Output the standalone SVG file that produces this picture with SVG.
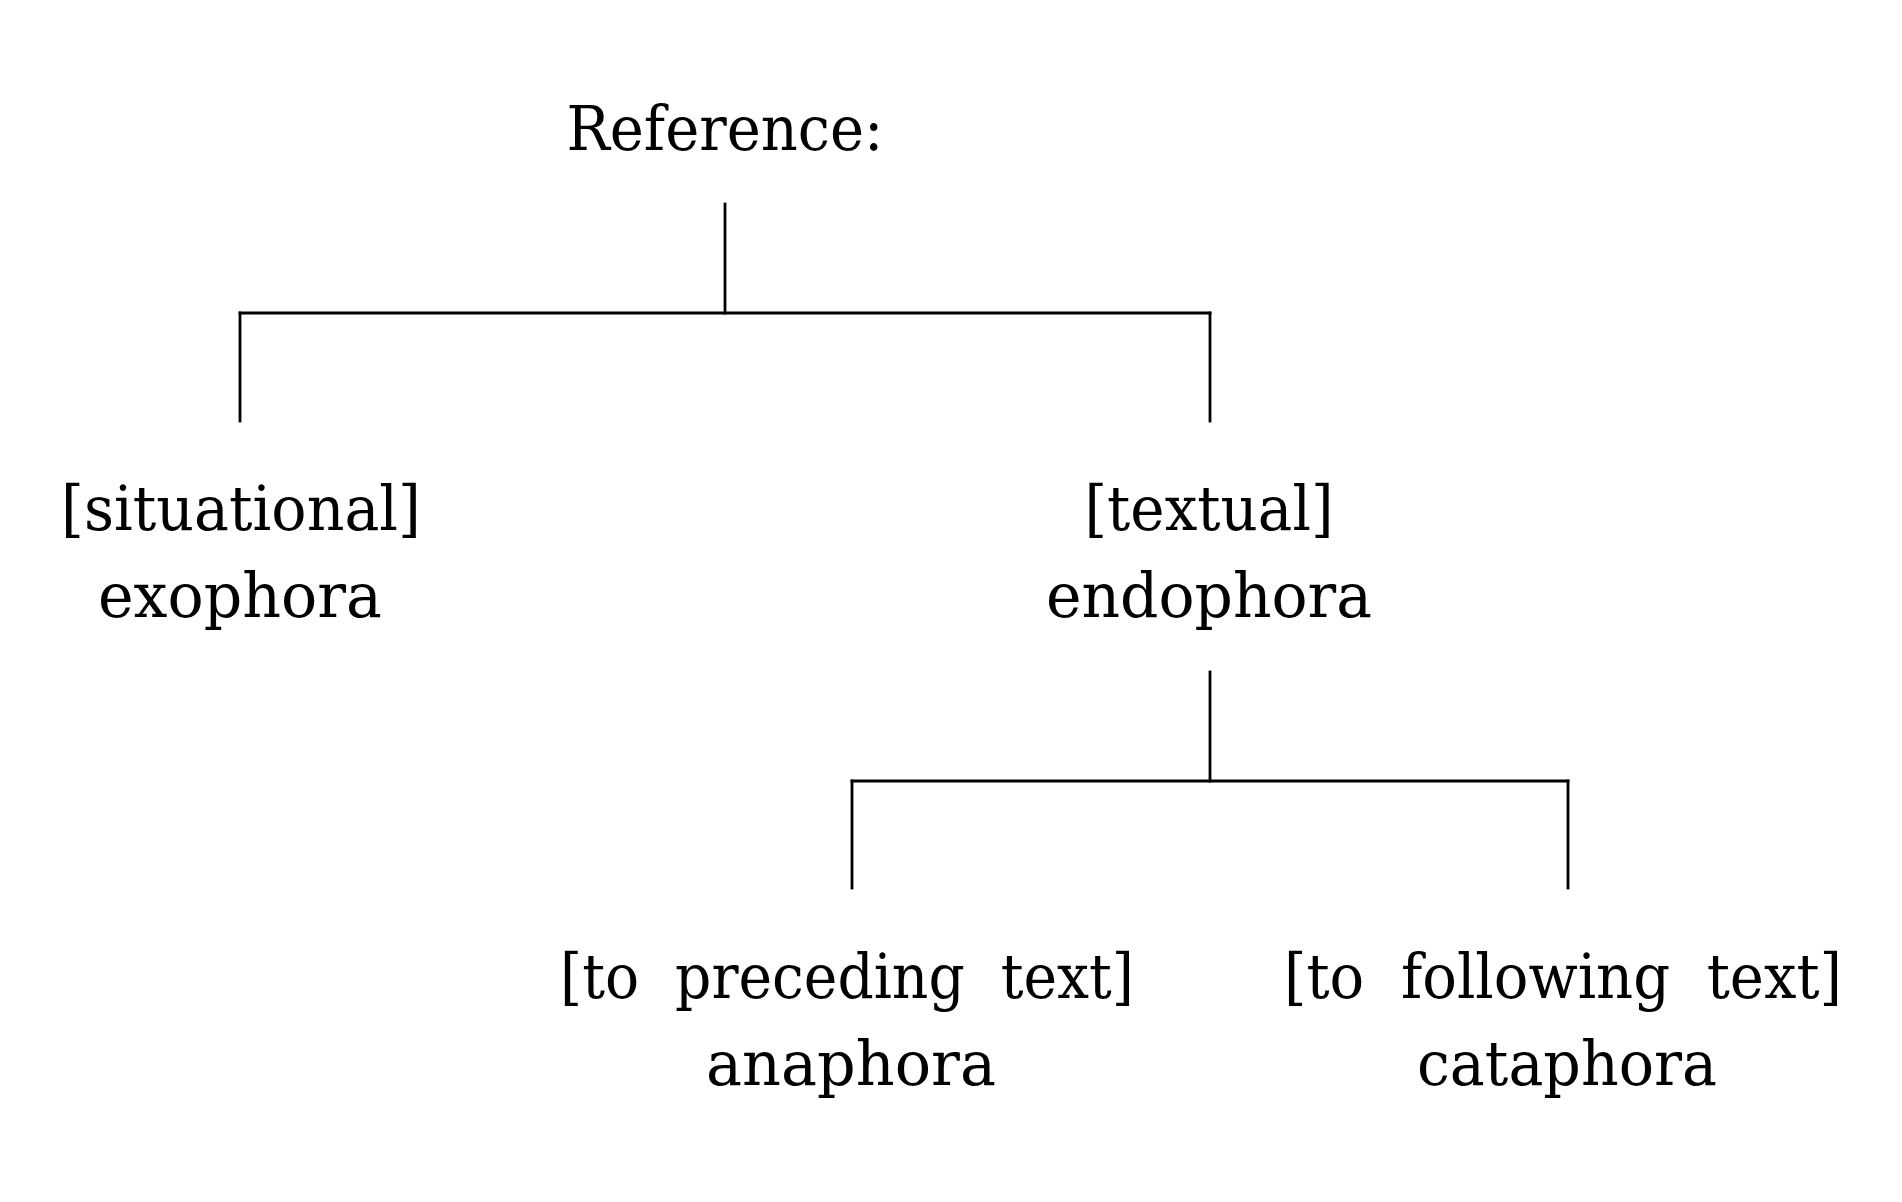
<svg xmlns="http://www.w3.org/2000/svg" width="1902" height="1202" viewBox="0 0 1902 1202">
<style>
text{font-family:"DejaVu Serif","Liberation Serif",serif;font-size:62px;fill:#000;text-anchor:middle}
.c line{stroke:#000;stroke-width:2.8;stroke-linecap:square}
</style>
<rect width="1902" height="1202" fill="#fff"/>
<g class="c" id="connectors">
<line x1="725" y1="204" x2="725" y2="313"/>
<line x1="240" y1="313" x2="1210" y2="313"/>
<line x1="240" y1="313" x2="240" y2="421"/>
<line x1="1210" y1="313" x2="1210" y2="421"/>
<line x1="1210" y1="672" x2="1210" y2="781"/>
<line x1="852" y1="781" x2="1568" y2="781"/>
<line x1="852" y1="781" x2="852" y2="888"/>
<line x1="1568" y1="781" x2="1568" y2="888"/>
</g>
<g id="root"><text x="725" y="150" textLength="317" lengthAdjust="spacingAndGlyphs">Reference:</text></g>
<g id="exophora"><text x="241" y="530" textLength="360" lengthAdjust="spacingAndGlyphs">[situational]</text><text x="240" y="617" textLength="284" lengthAdjust="spacingAndGlyphs">exophora</text></g>
<g id="endophora"><text x="1209" y="530" textLength="249" lengthAdjust="spacingAndGlyphs">[textual]</text><text x="1209" y="617" textLength="326" lengthAdjust="spacingAndGlyphs">endophora</text></g>
<g id="anaphora"><text x="847" y="998" textLength="574" lengthAdjust="spacingAndGlyphs" xml:space="preserve">[to  preceding  text]</text><text x="851" y="1085" textLength="290" lengthAdjust="spacingAndGlyphs">anaphora</text></g>
<g id="cataphora"><text x="1563" y="998" textLength="558" lengthAdjust="spacingAndGlyphs" xml:space="preserve">[to  following  text]</text><text x="1567" y="1085" textLength="300" lengthAdjust="spacingAndGlyphs">cataphora</text></g>
</svg>
